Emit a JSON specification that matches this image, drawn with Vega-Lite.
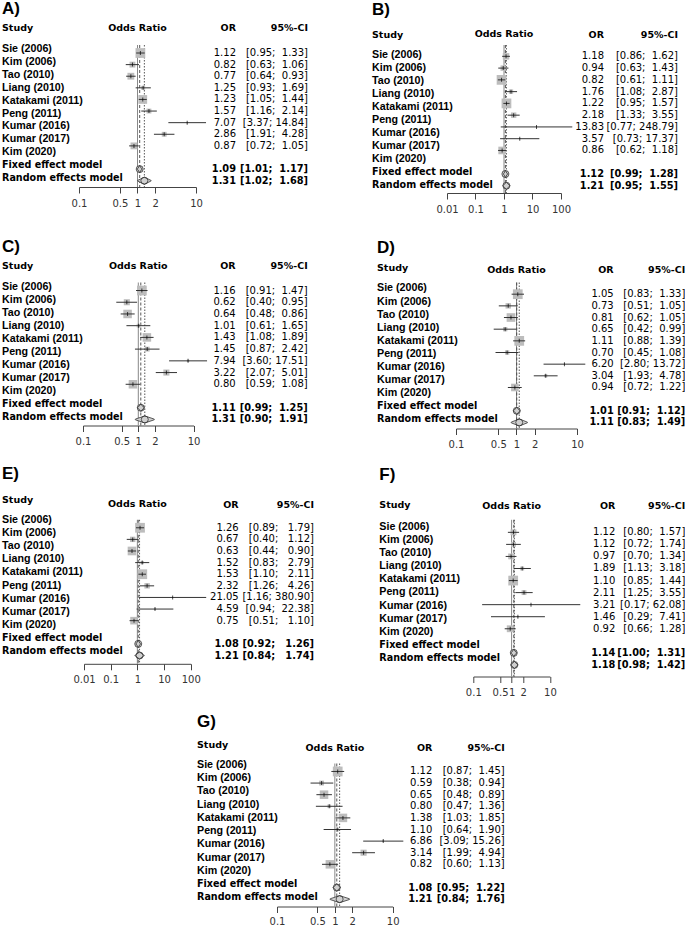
{
"$schema": "https://vega.github.io/schema/vega-lite/v6.json",
"background": "white",
"padding": {"left": 2, "top": 0, "right": 0, "bottom": 0},
"config": {
 "view": {"stroke": null},
 "title": {"font": "DejaVu Sans", "fontSize": 9.5, "fontWeight": "bold", "color": "#000", "frame": "group"},
 "axis": {"labelFont": "DejaVu Sans", "labelFontSize": 10, "labelColor": "#333", "domainColor": "#444", "tickColor": "#444", "tickSize": 6, "labelPadding": 5, "grid": false, "labelFlush": false, "labelOverlap": false, "title": null},
 "style": {
  "lab": {"font": "Liberation Sans", "fontWeight": "bold", "fontSize": 10.7, "align": "left", "baseline": "middle"},
  "labs": {"font": "DejaVu Sans", "fontWeight": "bold", "fontSize": 9.6, "align": "left", "baseline": "middle"},
  "val": {"font": "DejaVu Sans", "fontSize": 10, "align": "right", "baseline": "middle"},
  "vals": {"font": "DejaVu Sans", "fontWeight": "bold", "fontSize": 9.8, "align": "right", "baseline": "middle"}
 }
},
"datasets": {
 "A": [
  {"study": "Sie (2006)", "or": 1.12, "lo": 0.95, "hi": 1.33, "ci": "[0.95;\u00a0\u00a01.33]", "w": 26.1, "kind": "s"},
  {"study": "Kim (2006)", "or": 0.82, "lo": 0.63, "hi": 1.06, "ci": "[0.63;\u00a0\u00a01.06]", "w": 9.4, "kind": "s"},
  {"study": "Tao (2010)", "or": 0.77, "lo": 0.64, "hi": 0.93, "ci": "[0.64;\u00a0\u00a00.93]", "w": 12.8, "kind": "s"},
  {"study": "Liang (2010)", "or": 1.25, "lo": 0.93, "hi": 1.69, "ci": "[0.93;\u00a0\u00a01.69]", "w": 4.2, "kind": "s"},
  {"study": "Katakami (2011)", "or": 1.23, "lo": 1.05, "hi": 1.44, "ci": "[1.05;\u00a0\u00a01.44]", "w": 21.1, "kind": "s"},
  {"study": "Peng (2011)", "or": 1.57, "lo": 1.16, "hi": 2.14, "ci": "[1.16;\u00a0\u00a02.14]", "w": 6.5, "kind": "s"},
  {"study": "Kumar (2016)", "or": 7.07, "lo": 3.37, "hi": 14.84, "ci": "[3.37;\u00a014.84]", "w": 0.6, "kind": "s"},
  {"study": "Kumar (2017)", "or": 2.86, "lo": 1.91, "hi": 4.28, "ci": "[1.91;\u00a0\u00a04.28]", "w": 6.5, "kind": "s"},
  {"study": "Kim (2020)", "or": 0.87, "lo": 0.72, "hi": 1.05, "ci": "[0.72;\u00a0\u00a01.05]", "w": 12.8, "kind": "s"},
  {"study": "Fixed effect model", "or": 1.09, "lo": 1.01, "hi": 1.17, "ci": "[1.01;\u00a0\u00a01.17]", "kind": "f"},
  {"study": "Random effects model", "or": 1.31, "lo": 1.02, "hi": 1.68, "ci": "[1.02;\u00a0\u00a01.68]", "kind": "r"}
 ],
 "B": [
  {"study": "Sie (2006)", "or": 1.18, "lo": 0.86, "hi": 1.62, "ci": "[0.86;\u00a0\u00a01.62]", "w": 11.4, "kind": "s"},
  {"study": "Kim (2006)", "or": 0.94, "lo": 0.63, "hi": 1.43, "ci": "[0.63;\u00a0\u00a01.43]", "w": 7.9, "kind": "s"},
  {"study": "Tao (2010)", "or": 0.82, "lo": 0.61, "hi": 1.11, "ci": "[0.61;\u00a0\u00a01.11]", "w": 25.7, "kind": "s"},
  {"study": "Liang (2010)", "or": 1.76, "lo": 1.08, "hi": 2.87, "ci": "[1.08;\u00a0\u00a02.87]", "w": 5.1, "kind": "s"},
  {"study": "Katakami (2011)", "or": 1.22, "lo": 0.95, "hi": 1.57, "ci": "[0.95;\u00a0\u00a01.57]", "w": 25.7, "kind": "s"},
  {"study": "Peng (2011)", "or": 2.18, "lo": 1.33, "hi": 3.55, "ci": "[1.33;\u00a0\u00a03.55]", "w": 7.9, "kind": "s"},
  {"study": "Kumar (2016)", "or": 13.83, "lo": 0.77, "hi": 248.79, "ci": "[0.77;\u00a0248.79]", "w": 0.3, "kind": "s"},
  {"study": "Kumar (2017)", "or": 3.57, "lo": 0.73, "hi": 17.37, "ci": "[0.73;\u00a017.37]", "w": 0.3, "kind": "s"},
  {"study": "Kim (2020)", "or": 0.86, "lo": 0.62, "hi": 1.18, "ci": "[0.62;\u00a0\u00a01.18]", "w": 15.6, "kind": "s"},
  {"study": "Fixed effect model", "or": 1.12, "lo": 0.99, "hi": 1.28, "ci": "[0.99;\u00a0\u00a01.28]", "kind": "f"},
  {"study": "Random effects model", "or": 1.21, "lo": 0.95, "hi": 1.55, "ci": "[0.95;\u00a0\u00a01.55]", "kind": "r"}
 ],
 "C": [
  {"study": "Sie (2006)", "or": 1.16, "lo": 0.91, "hi": 1.47, "ci": "[0.91;\u00a0\u00a01.47]", "w": 22.1, "kind": "s"},
  {"study": "Kim (2006)", "or": 0.62, "lo": 0.40, "hi": 0.95, "ci": "[0.40;\u00a0\u00a00.95]", "w": 8.6, "kind": "s"},
  {"study": "Tao (2010)", "or": 0.64, "lo": 0.48, "hi": 0.86, "ci": "[0.48;\u00a0\u00a00.86]", "w": 16.9, "kind": "s"},
  {"study": "Liang (2010)", "or": 1.01, "lo": 0.61, "hi": 1.65, "ci": "[0.61;\u00a0\u00a01.65]", "w": 3.1, "kind": "s"},
  {"study": "Katakami (2011)", "or": 1.43, "lo": 1.08, "hi": 1.89, "ci": "[1.08;\u00a0\u00a01.89]", "w": 16.9, "kind": "s"},
  {"study": "Peng (2011)", "or": 1.45, "lo": 0.87, "hi": 2.42, "ci": "[0.87;\u00a0\u00a02.42]", "w": 5.5, "kind": "s"},
  {"study": "Kumar (2016)", "or": 7.94, "lo": 3.60, "hi": 17.51, "ci": "[3.60;\u00a017.51]", "w": 1.4, "kind": "s"},
  {"study": "Kumar (2017)", "or": 3.22, "lo": 2.07, "hi": 5.01, "ci": "[2.07;\u00a0\u00a05.01]", "w": 8.6, "kind": "s"},
  {"study": "Kim (2020)", "or": 0.80, "lo": 0.59, "hi": 1.08, "ci": "[0.59;\u00a0\u00a01.08]", "w": 16.9, "kind": "s"},
  {"study": "Fixed effect model", "or": 1.11, "lo": 0.99, "hi": 1.25, "ci": "[0.99;\u00a0\u00a01.25]", "kind": "f"},
  {"study": "Random effects model", "or": 1.31, "lo": 0.90, "hi": 1.91, "ci": "[0.90;\u00a0\u00a01.91]", "kind": "r"}
 ],
 "D": [
  {"study": "Sie (2006)", "or": 1.05, "lo": 0.83, "hi": 1.33, "ci": "[0.83;\u00a0\u00a01.33]", "w": 23.7, "kind": "s"},
  {"study": "Kim (2006)", "or": 0.73, "lo": 0.51, "hi": 1.05, "ci": "[0.51;\u00a0\u00a01.05]", "w": 7.3, "kind": "s"},
  {"study": "Tao (2010)", "or": 0.81, "lo": 0.62, "hi": 1.05, "ci": "[0.62;\u00a0\u00a01.05]", "w": 18.7, "kind": "s"},
  {"study": "Liang (2010)", "or": 0.65, "lo": 0.42, "hi": 0.99, "ci": "[0.42;\u00a0\u00a00.99]", "w": 4.7, "kind": "s"},
  {"study": "Katakami (2011)", "or": 1.11, "lo": 0.88, "hi": 1.39, "ci": "[0.88;\u00a0\u00a01.39]", "w": 23.7, "kind": "s"},
  {"study": "Peng (2011)", "or": 0.70, "lo": 0.45, "hi": 1.08, "ci": "[0.45;\u00a0\u00a01.08]", "w": 4.7, "kind": "s"},
  {"study": "Kumar (2016)", "or": 6.20, "lo": 2.80, "hi": 13.72, "ci": "[2.80;\u00a013.72]", "w": 0.3, "kind": "s"},
  {"study": "Kumar (2017)", "or": 3.04, "lo": 1.93, "hi": 4.78, "ci": "[1.93;\u00a0\u00a04.78]", "w": 2.6, "kind": "s"},
  {"study": "Kim (2020)", "or": 0.94, "lo": 0.72, "hi": 1.22, "ci": "[0.72;\u00a0\u00a01.22]", "w": 14.3, "kind": "s"},
  {"study": "Fixed effect model", "or": 1.01, "lo": 0.91, "hi": 1.12, "ci": "[0.91;\u00a0\u00a01.12]", "kind": "f"},
  {"study": "Random effects model", "or": 1.11, "lo": 0.83, "hi": 1.49, "ci": "[0.83;\u00a0\u00a01.49]", "kind": "r"}
 ],
 "E": [
  {"study": "Sie (2006)", "or": 1.26, "lo": 0.89, "hi": 1.79, "ci": "[0.89;\u00a0\u00a0\u00a01.79]", "w": 24.0, "kind": "s"},
  {"study": "Kim (2006)", "or": 0.67, "lo": 0.40, "hi": 1.12, "ci": "[0.40;\u00a0\u00a0\u00a01.12]", "w": 7.4, "kind": "s"},
  {"study": "Tao (2010)", "or": 0.63, "lo": 0.44, "hi": 0.90, "ci": "[0.44;\u00a0\u00a0\u00a00.90]", "w": 19.0, "kind": "s"},
  {"study": "Liang (2010)", "or": 1.52, "lo": 0.83, "hi": 2.79, "ci": "[0.83;\u00a0\u00a0\u00a02.79]", "w": 2.7, "kind": "s"},
  {"study": "Katakami (2011)", "or": 1.53, "lo": 1.10, "hi": 2.11, "ci": "[1.10;\u00a0\u00a0\u00a02.11]", "w": 24.0, "kind": "s"},
  {"study": "Peng (2011)", "or": 2.32, "lo": 1.26, "hi": 4.26, "ci": "[1.26;\u00a0\u00a0\u00a04.26]", "w": 7.4, "kind": "s"},
  {"study": "Kumar (2016)", "or": 21.05, "lo": 1.16, "hi": 380.90, "ci": "[1.16;\u00a0380.90]", "w": 0.3, "kind": "s"},
  {"study": "Kumar (2017)", "or": 4.59, "lo": 0.94, "hi": 22.38, "ci": "[0.94;\u00a0\u00a022.38]", "w": 0.7, "kind": "s"},
  {"study": "Kim (2020)", "or": 0.75, "lo": 0.51, "hi": 1.10, "ci": "[0.51;\u00a0\u00a0\u00a01.10]", "w": 14.5, "kind": "s"},
  {"study": "Fixed effect model", "or": 1.08, "lo": 0.92, "hi": 1.26, "ci": "[0.92;\u00a0\u00a0\u00a01.26]", "kind": "f"},
  {"study": "Random effects model", "or": 1.21, "lo": 0.84, "hi": 1.74, "ci": "[0.84;\u00a0\u00a0\u00a01.74]", "kind": "r"}
 ],
 "F": [
  {"study": "Sie (2006)", "or": 1.12, "lo": 0.80, "hi": 1.57, "ci": "[0.80;\u00a0\u00a01.57]", "w": 12.4, "kind": "s"},
  {"study": "Kim (2006)", "or": 1.12, "lo": 0.72, "hi": 1.74, "ci": "[0.72;\u00a0\u00a01.74]", "w": 8.6, "kind": "s"},
  {"study": "Tao (2010)", "or": 0.97, "lo": 0.70, "hi": 1.34, "ci": "[0.70;\u00a0\u00a01.34]", "w": 12.4, "kind": "s"},
  {"study": "Liang (2010)", "or": 1.89, "lo": 1.13, "hi": 3.18, "ci": "[1.13;\u00a0\u00a03.18]", "w": 5.5, "kind": "s"},
  {"study": "Katakami (2011)", "or": 1.10, "lo": 0.85, "hi": 1.44, "ci": "[0.85;\u00a0\u00a01.44]", "w": 34.5, "kind": "s"},
  {"study": "Peng (2011)", "or": 2.11, "lo": 1.25, "hi": 3.55, "ci": "[1.25;\u00a0\u00a03.55]", "w": 8.6, "kind": "s"},
  {"study": "Kumar (2016)", "or": 3.21, "lo": 0.17, "hi": 62.08, "ci": "[0.17;\u00a062.08]", "w": 0.3, "kind": "s"},
  {"study": "Kumar (2017)", "or": 1.46, "lo": 0.29, "hi": 7.41, "ci": "[0.29;\u00a0\u00a07.41]", "w": 0.8, "kind": "s"},
  {"study": "Kim (2020)", "or": 0.92, "lo": 0.66, "hi": 1.28, "ci": "[0.66;\u00a0\u00a01.28]", "w": 16.9, "kind": "s"},
  {"study": "Fixed effect model", "or": 1.14, "lo": 1.00, "hi": 1.31, "ci": "[1.00;\u00a0\u00a01.31]", "kind": "f"},
  {"study": "Random effects model", "or": 1.18, "lo": 0.98, "hi": 1.42, "ci": "[0.98;\u00a0\u00a01.42]", "kind": "r"}
 ],
 "G": [
  {"study": "Sie (2006)", "or": 1.12, "lo": 0.87, "hi": 1.45, "ci": "[0.87;\u00a0\u00a01.45]", "w": 23.5, "kind": "s"},
  {"study": "Kim (2006)", "or": 0.59, "lo": 0.38, "hi": 0.94, "ci": "[0.38;\u00a0\u00a00.94]", "w": 5.9, "kind": "s"},
  {"study": "Tao (2010)", "or": 0.65, "lo": 0.48, "hi": 0.89, "ci": "[0.48;\u00a0\u00a00.89]", "w": 18.0, "kind": "s"},
  {"study": "Liang (2010)", "or": 0.80, "lo": 0.47, "hi": 1.36, "ci": "[0.47;\u00a0\u00a01.36]", "w": 3.3, "kind": "s"},
  {"study": "Katakami (2011)", "or": 1.38, "lo": 1.03, "hi": 1.85, "ci": "[1.03;\u00a0\u00a01.85]", "w": 18.0, "kind": "s"},
  {"study": "Peng (2011)", "or": 1.10, "lo": 0.64, "hi": 1.90, "ci": "[0.64;\u00a0\u00a01.90]", "w": 3.3, "kind": "s"},
  {"study": "Kumar (2016)", "or": 6.86, "lo": 3.09, "hi": 15.26, "ci": "[3.09;\u00a015.26]", "w": 0.8, "kind": "s"},
  {"study": "Kumar (2017)", "or": 3.14, "lo": 1.99, "hi": 4.94, "ci": "[1.99;\u00a0\u00a04.94]", "w": 9.2, "kind": "s"},
  {"study": "Kim (2020)", "or": 0.82, "lo": 0.60, "hi": 1.13, "ci": "[0.60;\u00a0\u00a01.13]", "w": 18.0, "kind": "s"},
  {"study": "Fixed effect model", "or": 1.08, "lo": 0.95, "hi": 1.22, "ci": "[0.95;\u00a0\u00a01.22]", "kind": "f"},
  {"study": "Random effects model", "or": 1.21, "lo": 0.84, "hi": 1.76, "ci": "[0.84;\u00a0\u00a01.76]", "kind": "r"}
 ]
},
"spacing": 23.5,
"vconcat": [
 {"spacing": 64, "hconcat": [
  {"title": {"text": "A)", "anchor": "start", "font": "Liberation Sans", "fontSize": 17, "fontWeight": "bold", "offset": 4.25},
   "data": {"name": "A"}, "bounds": "flush", "spacing": 0,
   "hconcat": [
    {"width": 77, "height": 142, "title": {"text": "Study", "anchor": "start", "offset": 10.9},
     "encoding": {"x": {"datum": "c", "type": "nominal", "scale": {"type": "band", "paddingInner": 0, "paddingOuter": 0}, "axis": null, "bandPosition": 0},
      "y": {"field": "study", "type": "nominal", "scale": {"type": "point", "domain": ["Sie (2006)","Kim (2006)","Tao (2010)","Liang (2010)","Katakami (2011)","Peng (2011)","Kumar (2016)","Kumar (2017)","Kim (2020)","Fixed effect model","Random effects model"], "padding": 0.504, "align": 0.31}, "axis": null},
      "text": {"field": "study", "type": "nominal"}},
     "layer": [{"transform": [{"filter": "datum.kind == 's'"}], "mark": {"type": "text", "style": "lab"}},
               {"transform": [{"filter": "datum.kind != 's'"}], "mark": {"type": "text", "style": "labs"}}]},
    {"width": 117, "height": 142, "title": {"text": "Odds Ratio", "anchor": "middle", "offset": 12.25},
     "resolve": {"scale": {"size": "independent"}},
     "layer": [
      {"data": {"values": [{"ref": 1}]}, "mark": {"type": "rule", "color": "#888", "strokeWidth": 1},
       "encoding": {"x": {"field": "ref", "type": "quantitative", "scale": {"type": "log", "domain": [0.1, 10], "nice": false}, "axis": {"values": [0.1, 0.5, 1, 2, 10], "format": "~g", "title": null}}}},
      {"transform": [{"filter": "datum.kind != 's'"}], "mark": {"type": "rule", "color": "#444", "strokeWidth": 0.9},
       "encoding": {"x": {"field": "or", "type": "quantitative", "title": null}, "strokeDash": {"field": "kind", "type": "nominal", "scale": {"domain": ["f", "r"], "range": [[3, 2], [1.5, 1.5]]}, "legend": null}}},
      {"transform": [{"filter": "datum.kind == 's'"}], "mark": {"type": "point", "shape": "square", "filled": true, "color": "#bdbdbd", "opacity": 1},
       "encoding": {"x": {"field": "or", "type": "quantitative", "title": null}, "y": {"field": "study", "type": "nominal", "scale": {"type": "point", "domain": ["Sie (2006)","Kim (2006)","Tao (2010)","Liang (2010)","Katakami (2011)","Peng (2011)","Kumar (2016)","Kumar (2017)","Kim (2020)","","Fixed effect model","Random effects model"], "padding": 0.616, "align": 0.56}, "axis": null}, "size": {"field": "w", "type": "quantitative", "scale": {"range": [0, 95], "zero": true}, "legend": null}}},
      {"transform": [{"filter": "datum.kind == 's'"}], "mark": {"type": "rule", "color": "#333", "strokeWidth": 1},
       "encoding": {"x": {"field": "lo", "type": "quantitative", "title": null}, "x2": {"field": "hi"}, "y": {"field": "study", "type": "nominal", "axis": null}}},
      {"transform": [{"filter": "datum.kind == 's'"}], "mark": {"type": "tick", "orient": "vertical", "size": 4, "thickness": 1, "color": "#000"},
       "encoding": {"x": {"field": "or", "type": "quantitative", "title": null}, "y": {"field": "study", "type": "nominal", "axis": null}}},
      {"transform": [{"filter": "datum.kind != 's'"}, {"fold": ["lo", "or", "hi"], "as": ["k", "v"]}], "mark": {"type": "trail", "color": "#d0d0d0", "stroke": "#333", "strokeWidth": 0.8},
       "encoding": {"x": {"field": "v", "type": "quantitative", "title": null}, "y": {"field": "study", "type": "nominal", "axis": null}, "detail": {"field": "study"}, "size": {"field": "k", "type": "ordinal", "scale": {"type": "ordinal", "domain": ["lo", "or", "hi"], "range": [0, 7, 0]}, "legend": null}}}
     ]},
    {"width": 40, "height": 142, "title": {"text": "OR", "anchor": "end", "offset": 12.25},
     "encoding": {"x": {"datum": "c", "type": "nominal", "scale": {"type": "band", "paddingInner": 0, "paddingOuter": 0}, "axis": null, "bandPosition": 1},
      "y": {"field": "study", "type": "nominal", "scale": {"type": "point", "domain": ["Sie (2006)","Kim (2006)","Tao (2010)","Liang (2010)","Katakami (2011)","Peng (2011)","Kumar (2016)","Kumar (2017)","Kim (2020)","","Fixed effect model","Random effects model"], "padding": 0.616, "align": 0.56}, "axis": null},
      "text": {"field": "or", "type": "quantitative", "format": ".2f"}},
     "layer": [{"transform": [{"filter": "datum.kind == 's'"}], "mark": {"type": "text", "style": "val"}},
               {"transform": [{"filter": "datum.kind != 's'"}], "mark": {"type": "text", "style": "vals"}}]},
    {"width": 72, "height": 142, "title": {"text": "95%-CI", "anchor": "end", "offset": 12.25},
     "encoding": {"x": {"datum": "c", "type": "nominal", "scale": {"type": "band", "paddingInner": 0, "paddingOuter": 0}, "axis": null, "bandPosition": 1},
      "y": {"field": "study", "type": "nominal", "scale": {"type": "point", "domain": ["Sie (2006)","Kim (2006)","Tao (2010)","Liang (2010)","Katakami (2011)","Peng (2011)","Kumar (2016)","Kumar (2017)","Kim (2020)","","Fixed effect model","Random effects model"], "padding": 0.616, "align": 0.56}, "axis": null},
      "text": {"field": "ci", "type": "nominal"}},
     "layer": [{"transform": [{"filter": "datum.kind == 's'"}], "mark": {"type": "text", "style": "val"}},
               {"transform": [{"filter": "datum.kind != 's'"}], "mark": {"type": "text", "style": "vals"}}]}
   ]},
  {"title": {"text": "B)", "anchor": "start", "font": "Liberation Sans", "fontSize": 17, "fontWeight": "bold", "offset": 10.55},
   "data": {"name": "B"}, "bounds": "flush", "spacing": 0,
   "hconcat": [
    {"width": 75, "height": 148, "title": {"text": "Study", "anchor": "start", "offset": 5.95},
     "encoding": {"x": {"datum": "c", "type": "nominal", "scale": {"type": "band", "paddingInner": 0, "paddingOuter": 0}, "axis": null, "bandPosition": 0},
      "y": {"field": "study", "type": "nominal", "scale": {"type": "point", "domain": ["Sie (2006)","Kim (2006)","Tao (2010)","Liang (2010)","Katakami (2011)","Peng (2011)","Kumar (2016)","Kumar (2017)","Kim (2020)","Fixed effect model","Random effects model"], "padding": 0.72, "align": 0.55}, "axis": null},
      "text": {"field": "study", "type": "nominal"}},
     "layer": [{"transform": [{"filter": "datum.kind == 's'"}], "mark": {"type": "text", "style": "lab"}},
               {"transform": [{"filter": "datum.kind != 's'"}], "mark": {"type": "text", "style": "labs"}}]},
    {"width": 114, "height": 148, "title": {"text": "Odds Ratio", "anchor": "middle", "offset": 5.95},
     "resolve": {"scale": {"size": "independent"}},
     "layer": [
      {"data": {"values": [{"ref": 1}]}, "mark": {"type": "rule", "color": "#888", "strokeWidth": 1},
       "encoding": {"x": {"field": "ref", "type": "quantitative", "scale": {"type": "log", "domain": [0.01, 100], "nice": false}, "axis": {"values": [0.01, 0.1, 1, 10, 100], "format": "~g", "title": null}}}},
      {"transform": [{"filter": "datum.kind != 's'"}], "mark": {"type": "rule", "color": "#444", "strokeWidth": 0.9},
       "encoding": {"x": {"field": "or", "type": "quantitative", "title": null}, "strokeDash": {"field": "kind", "type": "nominal", "scale": {"domain": ["f", "r"], "range": [[3, 2], [1.5, 1.5]]}, "legend": null}}},
      {"transform": [{"filter": "datum.kind == 's'"}], "mark": {"type": "point", "shape": "square", "filled": true, "color": "#bdbdbd", "opacity": 1},
       "encoding": {"x": {"field": "or", "type": "quantitative", "title": null}, "y": {"field": "study", "type": "nominal", "scale": {"type": "point", "domain": ["Sie (2006)","Kim (2006)","Tao (2010)","Liang (2010)","Katakami (2011)","Peng (2011)","Kumar (2016)","Kumar (2017)","Kim (2020)","","Fixed effect model","Random effects model"], "padding": 0.79, "align": 0.61}, "axis": null}, "size": {"field": "w", "type": "quantitative", "scale": {"range": [0, 95], "zero": true}, "legend": null}}},
      {"transform": [{"filter": "datum.kind == 's'"}], "mark": {"type": "rule", "color": "#333", "strokeWidth": 1},
       "encoding": {"x": {"field": "lo", "type": "quantitative", "title": null}, "x2": {"field": "hi"}, "y": {"field": "study", "type": "nominal", "axis": null}}},
      {"transform": [{"filter": "datum.kind == 's'"}], "mark": {"type": "tick", "orient": "vertical", "size": 4, "thickness": 1, "color": "#000"},
       "encoding": {"x": {"field": "or", "type": "quantitative", "title": null}, "y": {"field": "study", "type": "nominal", "axis": null}}},
      {"transform": [{"filter": "datum.kind != 's'"}, {"fold": ["lo", "or", "hi"], "as": ["k", "v"]}], "mark": {"type": "trail", "color": "#d0d0d0", "stroke": "#333", "strokeWidth": 0.8},
       "encoding": {"x": {"field": "v", "type": "quantitative", "title": null}, "y": {"field": "study", "type": "nominal", "axis": null}, "detail": {"field": "study"}, "size": {"field": "k", "type": "ordinal", "scale": {"type": "ordinal", "domain": ["lo", "or", "hi"], "range": [0, 7, 0]}, "legend": null}}}
     ]},
    {"width": 43, "height": 148, "title": {"text": "OR", "anchor": "end", "offset": 5.95},
     "encoding": {"x": {"datum": "c", "type": "nominal", "scale": {"type": "band", "paddingInner": 0, "paddingOuter": 0}, "axis": null, "bandPosition": 1},
      "y": {"field": "study", "type": "nominal", "scale": {"type": "point", "domain": ["Sie (2006)","Kim (2006)","Tao (2010)","Liang (2010)","Katakami (2011)","Peng (2011)","Kumar (2016)","Kumar (2017)","Kim (2020)","","Fixed effect model","Random effects model"], "padding": 0.79, "align": 0.61}, "axis": null},
      "text": {"field": "or", "type": "quantitative", "format": ".2f"}},
     "layer": [{"transform": [{"filter": "datum.kind == 's'"}], "mark": {"type": "text", "style": "val"}},
               {"transform": [{"filter": "datum.kind != 's'"}], "mark": {"type": "text", "style": "vals"}}]},
    {"width": 74, "height": 148, "title": {"text": "95%-CI", "anchor": "end", "offset": 5.95},
     "encoding": {"x": {"datum": "c", "type": "nominal", "scale": {"type": "band", "paddingInner": 0, "paddingOuter": 0}, "axis": null, "bandPosition": 1},
      "y": {"field": "study", "type": "nominal", "scale": {"type": "point", "domain": ["Sie (2006)","Kim (2006)","Tao (2010)","Liang (2010)","Katakami (2011)","Peng (2011)","Kumar (2016)","Kumar (2017)","Kim (2020)","","Fixed effect model","Random effects model"], "padding": 0.79, "align": 0.61}, "axis": null},
      "text": {"field": "ci", "type": "nominal"}},
     "layer": [{"transform": [{"filter": "datum.kind == 's'"}], "mark": {"type": "text", "style": "val"}},
               {"transform": [{"filter": "datum.kind != 's'"}], "mark": {"type": "text", "style": "vals"}}]}
   ]}
 ]},
 {"spacing": 15.3, "vconcat": [
  {"spacing": 69, "hconcat": [
   {"title": {"text": "C)", "anchor": "start", "font": "Liberation Sans", "fontSize": 17, "fontWeight": "bold", "offset": 4.45},
    "data": {"name": "C"}, "bounds": "flush", "spacing": 0,
    "hconcat": [
     {"width": 80.7, "height": 143, "title": {"text": "Study", "anchor": "start", "offset": 10.5},
      "encoding": {"x": {"datum": "c", "type": "nominal", "scale": {"type": "band", "paddingInner": 0, "paddingOuter": 0}, "axis": null, "bandPosition": 0},
       "y": {"field": "study", "type": "nominal", "scale": {"type": "point", "domain": ["Sie (2006)","Kim (2006)","Tao (2010)","Liang (2010)","Katakami (2011)","Peng (2011)","Kumar (2016)","Kumar (2017)","Kim (2020)","Fixed effect model","Random effects model"], "padding": 0.49, "align": 0.34}, "axis": null},
       "text": {"field": "study", "type": "nominal"}},
      "layer": [{"transform": [{"filter": "datum.kind == 's'"}], "mark": {"type": "text", "style": "lab"}},
                {"transform": [{"filter": "datum.kind != 's'"}], "mark": {"type": "text", "style": "labs"}}]},
     {"width": 110.6, "height": 143, "title": {"text": "Odds Ratio", "anchor": "middle", "offset": 11.55},
      "resolve": {"scale": {"size": "independent"}},
      "layer": [
       {"data": {"values": [{"ref": 1}]}, "mark": {"type": "rule", "color": "#888", "strokeWidth": 1},
        "encoding": {"x": {"field": "ref", "type": "quantitative", "scale": {"type": "log", "domain": [0.1, 10], "nice": false}, "axis": {"values": [0.1, 0.5, 1, 2, 10], "format": "~g", "title": null}}}},
       {"transform": [{"filter": "datum.kind != 's'"}], "mark": {"type": "rule", "color": "#444", "strokeWidth": 0.9},
        "encoding": {"x": {"field": "or", "type": "quantitative", "title": null}, "strokeDash": {"field": "kind", "type": "nominal", "scale": {"domain": ["f", "r"], "range": [[3, 2], [1.5, 1.5]]}, "legend": null}}},
       {"transform": [{"filter": "datum.kind == 's'"}], "mark": {"type": "point", "shape": "square", "filled": true, "color": "#bdbdbd", "opacity": 1},
        "encoding": {"x": {"field": "or", "type": "quantitative", "title": null}, "y": {"field": "study", "type": "nominal", "scale": {"type": "point", "domain": ["Sie (2006)","Kim (2006)","Tao (2010)","Liang (2010)","Katakami (2011)","Peng (2011)","Kumar (2016)","Kumar (2017)","Kim (2020)","","Fixed effect model","Random effects model"], "padding": 0.6, "align": 0.57}, "axis": null}, "size": {"field": "w", "type": "quantitative", "scale": {"range": [0, 95], "zero": true}, "legend": null}}},
       {"transform": [{"filter": "datum.kind == 's'"}], "mark": {"type": "rule", "color": "#333", "strokeWidth": 1},
        "encoding": {"x": {"field": "lo", "type": "quantitative", "title": null}, "x2": {"field": "hi"}, "y": {"field": "study", "type": "nominal", "axis": null}}},
       {"transform": [{"filter": "datum.kind == 's'"}], "mark": {"type": "tick", "orient": "vertical", "size": 4, "thickness": 1, "color": "#000"},
        "encoding": {"x": {"field": "or", "type": "quantitative", "title": null}, "y": {"field": "study", "type": "nominal", "axis": null}}},
       {"transform": [{"filter": "datum.kind != 's'"}, {"fold": ["lo", "or", "hi"], "as": ["k", "v"]}], "mark": {"type": "trail", "color": "#d0d0d0", "stroke": "#333", "strokeWidth": 0.8},
        "encoding": {"x": {"field": "v", "type": "quantitative", "title": null}, "y": {"field": "study", "type": "nominal", "axis": null}, "detail": {"field": "study"}, "size": {"field": "k", "type": "ordinal", "scale": {"type": "ordinal", "domain": ["lo", "or", "hi"], "range": [0, 7, 0]}, "legend": null}}}
      ]},
     {"width": 41.7, "height": 143, "title": {"text": "OR", "anchor": "end", "offset": 11.55},
      "encoding": {"x": {"datum": "c", "type": "nominal", "scale": {"type": "band", "paddingInner": 0, "paddingOuter": 0}, "axis": null, "bandPosition": 1},
       "y": {"field": "study", "type": "nominal", "scale": {"type": "point", "domain": ["Sie (2006)","Kim (2006)","Tao (2010)","Liang (2010)","Katakami (2011)","Peng (2011)","Kumar (2016)","Kumar (2017)","Kim (2020)","","Fixed effect model","Random effects model"], "padding": 0.6, "align": 0.57}, "axis": null},
       "text": {"field": "or", "type": "quantitative", "format": ".2f"}},
      "layer": [{"transform": [{"filter": "datum.kind == 's'"}], "mark": {"type": "text", "style": "val"}},
                {"transform": [{"filter": "datum.kind != 's'"}], "mark": {"type": "text", "style": "vals"}}]},
     {"width": 71.7, "height": 143, "title": {"text": "95%-CI", "anchor": "end", "offset": 11.55},
      "encoding": {"x": {"datum": "c", "type": "nominal", "scale": {"type": "band", "paddingInner": 0, "paddingOuter": 0}, "axis": null, "bandPosition": 1},
       "y": {"field": "study", "type": "nominal", "scale": {"type": "point", "domain": ["Sie (2006)","Kim (2006)","Tao (2010)","Liang (2010)","Katakami (2011)","Peng (2011)","Kumar (2016)","Kumar (2017)","Kim (2020)","","Fixed effect model","Random effects model"], "padding": 0.6, "align": 0.57}, "axis": null},
       "text": {"field": "ci", "type": "nominal"}},
      "layer": [{"transform": [{"filter": "datum.kind == 's'"}], "mark": {"type": "text", "style": "val"}},
                {"transform": [{"filter": "datum.kind != 's'"}], "mark": {"type": "text", "style": "vals"}}]}
    ]},
   {"title": {"text": "D)", "anchor": "start", "font": "Liberation Sans", "fontSize": 17, "fontWeight": "bold", "offset": 6.15},
    "data": {"name": "D"}, "bounds": "flush", "spacing": 0,
    "hconcat": [
     {"width": 78.3, "height": 146, "title": {"text": "Study", "anchor": "start", "offset": 9.85},
      "encoding": {"x": {"datum": "c", "type": "nominal", "scale": {"type": "band", "paddingInner": 0, "paddingOuter": 0}, "axis": null, "bandPosition": 0},
       "y": {"field": "study", "type": "nominal", "scale": {"type": "point", "domain": ["Sie (2006)","Kim (2006)","Tao (2010)","Liang (2010)","Katakami (2011)","Peng (2011)","Kumar (2016)","Kumar (2017)","Kim (2020)","Fixed effect model","Random effects model"], "padding": 0.585, "align": 0.39}, "axis": null},
       "text": {"field": "study", "type": "nominal"}},
      "layer": [{"transform": [{"filter": "datum.kind == 's'"}], "mark": {"type": "text", "style": "lab"}},
                {"transform": [{"filter": "datum.kind != 's'"}], "mark": {"type": "text", "style": "labs"}}]},
     {"width": 121, "height": 146, "title": {"text": "Odds Ratio", "anchor": "middle", "offset": 7.85},
      "resolve": {"scale": {"size": "independent"}},
      "layer": [
       {"data": {"values": [{"ref": 1}]}, "mark": {"type": "rule", "color": "#888", "strokeWidth": 1},
        "encoding": {"x": {"field": "ref", "type": "quantitative", "scale": {"type": "log", "domain": [0.1, 10], "nice": false}, "axis": {"values": [0.1, 0.5, 1, 2, 10], "format": "~g", "title": null}}}},
       {"transform": [{"filter": "datum.kind != 's'"}], "mark": {"type": "rule", "color": "#444", "strokeWidth": 0.9},
        "encoding": {"x": {"field": "or", "type": "quantitative", "title": null}, "strokeDash": {"field": "kind", "type": "nominal", "scale": {"domain": ["f", "r"], "range": [[3, 2], [1.5, 1.5]]}, "legend": null}}},
       {"transform": [{"filter": "datum.kind == 's'"}], "mark": {"type": "point", "shape": "square", "filled": true, "color": "#bdbdbd", "opacity": 1},
        "encoding": {"x": {"field": "or", "type": "quantitative", "title": null}, "y": {"field": "study", "type": "nominal", "scale": {"type": "point", "domain": ["Sie (2006)","Kim (2006)","Tao (2010)","Liang (2010)","Katakami (2011)","Peng (2011)","Kumar (2016)","Kumar (2017)","Kim (2020)","","Fixed effect model","Random effects model"], "padding": 0.76, "align": 0.66}, "axis": null}, "size": {"field": "w", "type": "quantitative", "scale": {"range": [0, 95], "zero": true}, "legend": null}}},
       {"transform": [{"filter": "datum.kind == 's'"}], "mark": {"type": "rule", "color": "#333", "strokeWidth": 1},
        "encoding": {"x": {"field": "lo", "type": "quantitative", "title": null}, "x2": {"field": "hi"}, "y": {"field": "study", "type": "nominal", "axis": null}}},
       {"transform": [{"filter": "datum.kind == 's'"}], "mark": {"type": "tick", "orient": "vertical", "size": 4, "thickness": 1, "color": "#000"},
        "encoding": {"x": {"field": "or", "type": "quantitative", "title": null}, "y": {"field": "study", "type": "nominal", "axis": null}}},
       {"transform": [{"filter": "datum.kind != 's'"}, {"fold": ["lo", "or", "hi"], "as": ["k", "v"]}], "mark": {"type": "trail", "color": "#d0d0d0", "stroke": "#333", "strokeWidth": 0.8},
        "encoding": {"x": {"field": "v", "type": "quantitative", "title": null}, "y": {"field": "study", "type": "nominal", "axis": null}, "detail": {"field": "study"}, "size": {"field": "k", "type": "ordinal", "scale": {"type": "ordinal", "domain": ["lo", "or", "hi"], "range": [0, 7, 0]}, "legend": null}}}
      ]},
     {"width": 36.7, "height": 146, "title": {"text": "OR", "anchor": "end", "offset": 7.85},
      "encoding": {"x": {"datum": "c", "type": "nominal", "scale": {"type": "band", "paddingInner": 0, "paddingOuter": 0}, "axis": null, "bandPosition": 1},
       "y": {"field": "study", "type": "nominal", "scale": {"type": "point", "domain": ["Sie (2006)","Kim (2006)","Tao (2010)","Liang (2010)","Katakami (2011)","Peng (2011)","Kumar (2016)","Kumar (2017)","Kim (2020)","","Fixed effect model","Random effects model"], "padding": 0.76, "align": 0.66}, "axis": null},
       "text": {"field": "or", "type": "quantitative", "format": ".2f"}},
      "layer": [{"transform": [{"filter": "datum.kind == 's'"}], "mark": {"type": "text", "style": "val"}},
                {"transform": [{"filter": "datum.kind != 's'"}], "mark": {"type": "text", "style": "vals"}}]},
     {"width": 71.3, "height": 146, "title": {"text": "95%-CI", "anchor": "end", "offset": 7.85},
      "encoding": {"x": {"datum": "c", "type": "nominal", "scale": {"type": "band", "paddingInner": 0, "paddingOuter": 0}, "axis": null, "bandPosition": 1},
       "y": {"field": "study", "type": "nominal", "scale": {"type": "point", "domain": ["Sie (2006)","Kim (2006)","Tao (2010)","Liang (2010)","Katakami (2011)","Peng (2011)","Kumar (2016)","Kumar (2017)","Kim (2020)","","Fixed effect model","Random effects model"], "padding": 0.76, "align": 0.66}, "axis": null},
       "text": {"field": "ci", "type": "nominal"}},
      "layer": [{"transform": [{"filter": "datum.kind == 's'"}], "mark": {"type": "text", "style": "val"}},
                {"transform": [{"filter": "datum.kind != 's'"}], "mark": {"type": "text", "style": "vals"}}]}
    ]}
  ]},
  {"spacing": 14.7, "vconcat": [
   {"spacing": 65.3, "hconcat": [
    {"title": {"text": "E)", "anchor": "start", "font": "Liberation Sans", "fontSize": 17, "fontWeight": "bold", "offset": 12.25},
     "data": {"name": "E"}, "bounds": "flush", "spacing": 0,
     "hconcat": [
      {"width": 81.3, "height": 144, "title": {"text": "Study", "anchor": "start", "offset": 9.2},
       "encoding": {"x": {"datum": "c", "type": "nominal", "scale": {"type": "band", "paddingInner": 0, "paddingOuter": 0}, "axis": null, "bandPosition": 0},
        "y": {"field": "study", "type": "nominal", "scale": {"type": "point", "domain": ["Sie (2006)","Kim (2006)","Tao (2010)","Liang (2010)","Katakami (2011)","Peng (2011)","Kumar (2016)","Kumar (2017)","Kim (2020)","Fixed effect model","Random effects model"], "padding": 0.47, "align": 0}, "axis": null},
        "text": {"field": "study", "type": "nominal"}},
       "layer": [{"transform": [{"filter": "datum.kind == 's'"}], "mark": {"type": "text", "style": "lab"}},
                 {"transform": [{"filter": "datum.kind != 's'"}], "mark": {"type": "text", "style": "labs"}}]},
      {"width": 106.7, "height": 144, "title": {"text": "Odds Ratio", "anchor": "middle", "offset": 10.55},
       "resolve": {"scale": {"size": "independent"}},
       "layer": [
        {"data": {"values": [{"ref": 1}]}, "mark": {"type": "rule", "color": "#888", "strokeWidth": 1},
         "encoding": {"x": {"field": "ref", "type": "quantitative", "scale": {"type": "log", "domain": [0.01, 100], "nice": false}, "axis": {"values": [0.01, 0.1, 1, 10, 100], "format": "~g", "title": null}}}},
        {"transform": [{"filter": "datum.kind != 's'"}], "mark": {"type": "rule", "color": "#444", "strokeWidth": 0.9},
         "encoding": {"x": {"field": "or", "type": "quantitative", "title": null}, "strokeDash": {"field": "kind", "type": "nominal", "scale": {"domain": ["f", "r"], "range": [[3, 2], [1.5, 1.5]]}, "legend": null}}},
        {"transform": [{"filter": "datum.kind == 's'"}], "mark": {"type": "point", "shape": "square", "filled": true, "color": "#bdbdbd", "opacity": 1},
         "encoding": {"x": {"field": "or", "type": "quantitative", "title": null}, "y": {"field": "study", "type": "nominal", "scale": {"type": "point", "domain": ["Sie (2006)","Kim (2006)","Tao (2010)","Liang (2010)","Katakami (2011)","Peng (2011)","Kumar (2016)","Kumar (2017)","Kim (2020)","","Fixed effect model","Random effects model"], "padding": 0.7, "align": 0.49}, "axis": null}, "size": {"field": "w", "type": "quantitative", "scale": {"range": [0, 95], "zero": true}, "legend": null}}},
        {"transform": [{"filter": "datum.kind == 's'"}], "mark": {"type": "rule", "color": "#333", "strokeWidth": 1},
         "encoding": {"x": {"field": "lo", "type": "quantitative", "title": null}, "x2": {"field": "hi"}, "y": {"field": "study", "type": "nominal", "axis": null}}},
        {"transform": [{"filter": "datum.kind == 's'"}], "mark": {"type": "tick", "orient": "vertical", "size": 4, "thickness": 1, "color": "#000"},
         "encoding": {"x": {"field": "or", "type": "quantitative", "title": null}, "y": {"field": "study", "type": "nominal", "axis": null}}},
        {"transform": [{"filter": "datum.kind != 's'"}, {"fold": ["lo", "or", "hi"], "as": ["k", "v"]}], "mark": {"type": "trail", "color": "#d0d0d0", "stroke": "#333", "strokeWidth": 0.8},
         "encoding": {"x": {"field": "v", "type": "quantitative", "title": null}, "y": {"field": "study", "type": "nominal", "axis": null}, "detail": {"field": "study"}, "size": {"field": "k", "type": "ordinal", "scale": {"type": "ordinal", "domain": ["lo", "or", "hi"], "range": [0, 7, 0]}, "legend": null}}}
       ]},
      {"width": 47.7, "height": 144, "title": {"text": "OR", "anchor": "end", "offset": 10.55},
       "encoding": {"x": {"datum": "c", "type": "nominal", "scale": {"type": "band", "paddingInner": 0, "paddingOuter": 0}, "axis": null, "bandPosition": 1},
        "y": {"field": "study", "type": "nominal", "scale": {"type": "point", "domain": ["Sie (2006)","Kim (2006)","Tao (2010)","Liang (2010)","Katakami (2011)","Peng (2011)","Kumar (2016)","Kumar (2017)","Kim (2020)","","Fixed effect model","Random effects model"], "padding": 0.7, "align": 0.49}, "axis": null},
        "text": {"field": "or", "type": "quantitative", "format": ".2f"}},
       "layer": [{"transform": [{"filter": "datum.kind == 's'"}], "mark": {"type": "text", "style": "val"}},
                 {"transform": [{"filter": "datum.kind != 's'"}], "mark": {"type": "text", "style": "vals"}}]},
      {"width": 75, "height": 144, "title": {"text": "95%-CI", "anchor": "end", "offset": 10.55},
       "encoding": {"x": {"datum": "c", "type": "nominal", "scale": {"type": "band", "paddingInner": 0, "paddingOuter": 0}, "axis": null, "bandPosition": 1},
        "y": {"field": "study", "type": "nominal", "scale": {"type": "point", "domain": ["Sie (2006)","Kim (2006)","Tao (2010)","Liang (2010)","Katakami (2011)","Peng (2011)","Kumar (2016)","Kumar (2017)","Kim (2020)","","Fixed effect model","Random effects model"], "padding": 0.7, "align": 0.49}, "axis": null},
        "text": {"field": "ci", "type": "nominal"}},
       "layer": [{"transform": [{"filter": "datum.kind == 's'"}], "mark": {"type": "text", "style": "val"}},
                 {"transform": [{"filter": "datum.kind != 's'"}], "mark": {"type": "text", "style": "vals"}}]}
     ]},
    {"title": {"text": "F)", "anchor": "start", "font": "Liberation Sans", "fontSize": 17, "fontWeight": "bold", "offset": 16.85},
     "data": {"name": "F"}, "bounds": "flush", "spacing": 0,
     "hconcat": [
      {"width": 93.7, "height": 156.7, "title": {"text": "Study", "anchor": "start", "offset": 9.95},
       "encoding": {"x": {"datum": "c", "type": "nominal", "scale": {"type": "band", "paddingInner": 0, "paddingOuter": 0}, "axis": null, "bandPosition": 0},
        "y": {"field": "study", "type": "nominal", "scale": {"type": "point", "domain": ["Sie (2006)","Kim (2006)","Tao (2010)","Liang (2010)","Katakami (2011)","Peng (2011)","Kumar (2016)","Kumar (2017)","Kim (2020)","Fixed effect model","Random effects model"], "padding": 0.95, "align": 0.27}, "axis": null},
        "text": {"field": "study", "type": "nominal"}},
       "layer": [{"transform": [{"filter": "datum.kind == 's'"}], "mark": {"type": "text", "style": "lab"}},
                 {"transform": [{"filter": "datum.kind != 's'"}], "mark": {"type": "text", "style": "labs"}}]},
      {"width": 76.6, "height": 156.7, "title": {"text": "Odds Ratio", "anchor": "middle", "offset": 9.25},
       "resolve": {"scale": {"size": "independent"}},
       "layer": [
        {"data": {"values": [{"ref": 1}]}, "mark": {"type": "rule", "color": "#888", "strokeWidth": 1},
         "encoding": {"x": {"field": "ref", "type": "quantitative", "scale": {"type": "log", "domain": [0.1, 10], "nice": false}, "axis": {"values": [0.1, 0.5, 1, 2, 10], "format": "~g", "title": null}}}},
        {"transform": [{"filter": "datum.kind != 's'"}], "mark": {"type": "rule", "color": "#444", "strokeWidth": 0.9},
         "encoding": {"x": {"field": "or", "type": "quantitative", "title": null}, "strokeDash": {"field": "kind", "type": "nominal", "scale": {"domain": ["f", "r"], "range": [[3, 2], [1.5, 1.5]]}, "legend": null}}},
        {"transform": [{"filter": "datum.kind == 's'"}], "mark": {"type": "point", "shape": "square", "filled": true, "color": "#bdbdbd", "opacity": 1},
         "encoding": {"x": {"field": "or", "type": "quantitative", "title": null}, "y": {"field": "study", "type": "nominal", "scale": {"type": "point", "domain": ["Sie (2006)","Kim (2006)","Tao (2010)","Liang (2010)","Katakami (2011)","Peng (2011)","Kumar (2016)","Kumar (2017)","Kim (2020)","","Fixed effect model","Random effects model"], "padding": 1.13, "align": 0.52}, "axis": null}, "size": {"field": "w", "type": "quantitative", "scale": {"range": [0, 95], "zero": true}, "legend": null}}},
        {"transform": [{"filter": "datum.kind == 's'"}], "mark": {"type": "rule", "color": "#333", "strokeWidth": 1},
         "encoding": {"x": {"field": "lo", "type": "quantitative", "title": null}, "x2": {"field": "hi"}, "y": {"field": "study", "type": "nominal", "axis": null}}},
        {"transform": [{"filter": "datum.kind == 's'"}], "mark": {"type": "tick", "orient": "vertical", "size": 4, "thickness": 1, "color": "#000"},
         "encoding": {"x": {"field": "or", "type": "quantitative", "title": null}, "y": {"field": "study", "type": "nominal", "axis": null}}},
        {"transform": [{"filter": "datum.kind != 's'"}, {"fold": ["lo", "or", "hi"], "as": ["k", "v"]}], "mark": {"type": "trail", "color": "#d0d0d0", "stroke": "#333", "strokeWidth": 0.8},
         "encoding": {"x": {"field": "v", "type": "quantitative", "title": null}, "y": {"field": "study", "type": "nominal", "axis": null}, "detail": {"field": "study"}, "size": {"field": "k", "type": "ordinal", "scale": {"type": "ordinal", "domain": ["lo", "or", "hi"], "range": [0, 7, 0]}, "legend": null}}}
       ]},
      {"width": 65, "height": 156.7, "title": {"text": "OR", "anchor": "end", "offset": 9.25},
       "encoding": {"x": {"datum": "c", "type": "nominal", "scale": {"type": "band", "paddingInner": 0, "paddingOuter": 0}, "axis": null, "bandPosition": 1},
        "y": {"field": "study", "type": "nominal", "scale": {"type": "point", "domain": ["Sie (2006)","Kim (2006)","Tao (2010)","Liang (2010)","Katakami (2011)","Peng (2011)","Kumar (2016)","Kumar (2017)","Kim (2020)","","Fixed effect model","Random effects model"], "padding": 1.13, "align": 0.52}, "axis": null},
        "text": {"field": "or", "type": "quantitative", "format": ".2f"}},
       "layer": [{"transform": [{"filter": "datum.kind == 's'"}], "mark": {"type": "text", "style": "val"}},
                 {"transform": [{"filter": "datum.kind != 's'"}], "mark": {"type": "text", "style": "vals"}}]},
      {"width": 70, "height": 156.7, "title": {"text": "95%-CI", "anchor": "end", "offset": 9.25},
       "encoding": {"x": {"datum": "c", "type": "nominal", "scale": {"type": "band", "paddingInner": 0, "paddingOuter": 0}, "axis": null, "bandPosition": 1},
        "y": {"field": "study", "type": "nominal", "scale": {"type": "point", "domain": ["Sie (2006)","Kim (2006)","Tao (2010)","Liang (2010)","Katakami (2011)","Peng (2011)","Kumar (2016)","Kumar (2017)","Kim (2020)","","Fixed effect model","Random effects model"], "padding": 1.13, "align": 0.52}, "axis": null},
        "text": {"field": "ci", "type": "nominal"}},
       "layer": [{"transform": [{"filter": "datum.kind == 's'"}], "mark": {"type": "text", "style": "val"}},
                 {"transform": [{"filter": "datum.kind != 's'"}], "mark": {"type": "text", "style": "vals"}}]}
     ]}
   ]},
   {"spacing": 0, "hconcat": [
    {"width": 194.7, "height": 10, "data": {"values": []}, "mark": "point"},
    {"title": {"text": "G)", "anchor": "start", "font": "Liberation Sans", "fontSize": 17, "fontWeight": "bold", "offset": 9.15},
     "data": {"name": "G"}, "bounds": "flush", "spacing": 0,
     "hconcat": [
      {"width": 79.3, "height": 143, "title": {"text": "Study", "anchor": "start", "offset": 9.55},
       "encoding": {"x": {"datum": "c", "type": "nominal", "scale": {"type": "band", "paddingInner": 0, "paddingOuter": 0}, "axis": null, "bandPosition": 0},
        "y": {"field": "study", "type": "nominal", "scale": {"type": "point", "domain": ["Sie (2006)","Kim (2006)","Tao (2010)","Liang (2010)","Katakami (2011)","Peng (2011)","Kumar (2016)","Kumar (2017)","Kim (2020)","Fixed effect model","Random effects model"], "padding": 0.39, "align": 0.13}, "axis": null},
        "text": {"field": "study", "type": "nominal"}},
       "layer": [{"transform": [{"filter": "datum.kind == 's'"}], "mark": {"type": "text", "style": "lab"}},
                 {"transform": [{"filter": "datum.kind != 's'"}], "mark": {"type": "text", "style": "labs"}}]},
      {"width": 115.7, "height": 143, "title": {"text": "Odds Ratio", "anchor": "middle", "offset": 10.65},
       "resolve": {"scale": {"size": "independent"}},
       "layer": [
        {"data": {"values": [{"ref": 1}]}, "mark": {"type": "rule", "color": "#888", "strokeWidth": 1},
         "encoding": {"x": {"field": "ref", "type": "quantitative", "scale": {"type": "log", "domain": [0.1, 10], "nice": false}, "axis": {"values": [0.1, 0.5, 1, 2, 10], "format": "~g", "title": null, "labelPadding": 4}}}},
        {"transform": [{"filter": "datum.kind != 's'"}], "mark": {"type": "rule", "color": "#444", "strokeWidth": 0.9},
         "encoding": {"x": {"field": "or", "type": "quantitative", "title": null}, "strokeDash": {"field": "kind", "type": "nominal", "scale": {"domain": ["f", "r"], "range": [[3, 2], [1.5, 1.5]]}, "legend": null}}},
        {"transform": [{"filter": "datum.kind == 's'"}], "mark": {"type": "point", "shape": "square", "filled": true, "color": "#bdbdbd", "opacity": 1},
         "encoding": {"x": {"field": "or", "type": "quantitative", "title": null}, "y": {"field": "study", "type": "nominal", "scale": {"type": "point", "domain": ["Sie (2006)","Kim (2006)","Tao (2010)","Liang (2010)","Katakami (2011)","Peng (2011)","Kumar (2016)","Kumar (2017)","Kim (2020)","","Fixed effect model","Random effects model"], "padding": 0.66, "align": 0.52}, "axis": null}, "size": {"field": "w", "type": "quantitative", "scale": {"range": [0, 95], "zero": true}, "legend": null}}},
        {"transform": [{"filter": "datum.kind == 's'"}], "mark": {"type": "rule", "color": "#333", "strokeWidth": 1},
         "encoding": {"x": {"field": "lo", "type": "quantitative", "title": null}, "x2": {"field": "hi"}, "y": {"field": "study", "type": "nominal", "axis": null}}},
        {"transform": [{"filter": "datum.kind == 's'"}], "mark": {"type": "tick", "orient": "vertical", "size": 4, "thickness": 1, "color": "#000"},
         "encoding": {"x": {"field": "or", "type": "quantitative", "title": null}, "y": {"field": "study", "type": "nominal", "axis": null}}},
        {"transform": [{"filter": "datum.kind != 's'"}, {"fold": ["lo", "or", "hi"], "as": ["k", "v"]}], "mark": {"type": "trail", "color": "#d0d0d0", "stroke": "#333", "strokeWidth": 0.8},
         "encoding": {"x": {"field": "v", "type": "quantitative", "title": null}, "y": {"field": "study", "type": "nominal", "axis": null}, "detail": {"field": "study"}, "size": {"field": "k", "type": "ordinal", "scale": {"type": "ordinal", "domain": ["lo", "or", "hi"], "range": [0, 7, 0]}, "legend": null}}}
       ]},
      {"width": 39.3, "height": 143, "title": {"text": "OR", "anchor": "end", "offset": 10.65},
       "encoding": {"x": {"datum": "c", "type": "nominal", "scale": {"type": "band", "paddingInner": 0, "paddingOuter": 0}, "axis": null, "bandPosition": 1},
        "y": {"field": "study", "type": "nominal", "scale": {"type": "point", "domain": ["Sie (2006)","Kim (2006)","Tao (2010)","Liang (2010)","Katakami (2011)","Peng (2011)","Kumar (2016)","Kumar (2017)","Kim (2020)","","Fixed effect model","Random effects model"], "padding": 0.66, "align": 0.52}, "axis": null},
        "text": {"field": "or", "type": "quantitative", "format": ".2f"}},
       "layer": [{"transform": [{"filter": "datum.kind == 's'"}], "mark": {"type": "text", "style": "val"}},
                 {"transform": [{"filter": "datum.kind != 's'"}], "mark": {"type": "text", "style": "vals"}}]},
      {"width": 71.7, "height": 143, "title": {"text": "95%-CI", "anchor": "end", "offset": 10.65},
       "encoding": {"x": {"datum": "c", "type": "nominal", "scale": {"type": "band", "paddingInner": 0, "paddingOuter": 0}, "axis": null, "bandPosition": 1},
        "y": {"field": "study", "type": "nominal", "scale": {"type": "point", "domain": ["Sie (2006)","Kim (2006)","Tao (2010)","Liang (2010)","Katakami (2011)","Peng (2011)","Kumar (2016)","Kumar (2017)","Kim (2020)","","Fixed effect model","Random effects model"], "padding": 0.66, "align": 0.52}, "axis": null},
        "text": {"field": "ci", "type": "nominal"}},
       "layer": [{"transform": [{"filter": "datum.kind == 's'"}], "mark": {"type": "text", "style": "val"}},
                 {"transform": [{"filter": "datum.kind != 's'"}], "mark": {"type": "text", "style": "vals"}}]}
     ]}
   ]}
  ]}
 ]}
]
}
